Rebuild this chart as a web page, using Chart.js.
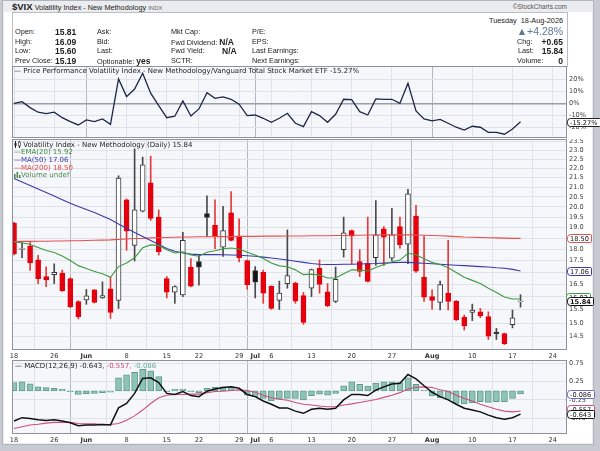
<!DOCTYPE html>
<html>
<head>
<meta charset="utf-8">
<title>$VIX</title>
<script src="https://cdn.jsdelivr.net/npm/chart.js@4.4.1/dist/chart.umd.min.js"></script>
<style>
html, body { margin: 0; padding: 0; }
body { width: 600px; height: 451px; position: relative; overflow: hidden; background: #c7cad1; font-family: "Liberation Sans", Arial, sans-serif; color: #222; }
#frame { position: absolute; left: 2px; top: 0px; width: 590px; height: 443px; background: #ebecef; border: 1px solid #b0b4bc; }
#white { position: absolute; left: 4px; top: 12px; width: 588px; height: 431px; background: #fff; }
#info { position: absolute; left: 12px; top: 12px; width: 554px; height: 53px; background: #fff; border: 1px solid #b9bdc5; }
.t { position: absolute; white-space: nowrap; line-height: 10px; font-size: 7.3px; z-index: 3; }
.b { font-weight: bold; font-size: 8.5px; }
.lg { position: absolute; white-space: nowrap; font-family: "DejaVu Sans", sans-serif; font-size: 7px; line-height: 8px; z-index: 3; }
canvas { position: absolute; left: 0; z-index: 1; }
</style>
</head>
<body>
<div id="frame"></div>
<div id="white"></div>
<div id="info"></div>

<div class="t" style="left:12px;top:2px;"><b style="font-size:9.5px">$VIX</b> Volatility Index - New Methodology <span style="font-size:6px;color:#666">INDX</span></div>
<div class="t" style="left:500px;width:67px;text-align:right;top:2px;font-size:6.5px;color:#555">&copy;StockCharts.com</div>

<div class="t" style="left:15px;top:27px">Open:</div>
<div class="t b" style="left:55px;top:27px" id="vOpen"></div>
<div class="t" style="left:15px;top:37px">High:</div>
<div class="t b" style="left:55px;top:37px" id="vHigh"></div>
<div class="t" style="left:15px;top:46px">Low:</div>
<div class="t b" style="left:55px;top:46px" id="vLow"></div>
<div class="t" style="left:15px;top:56px">Prev Close:</div>
<div class="t b" style="left:55px;top:56px" id="vPrev"></div>

<div class="t" style="left:97px;top:27px">Ask:</div>
<div class="t" style="left:97px;top:37px">Bid:</div>
<div class="t" style="left:97px;top:46px">Last:</div>
<div class="t" style="left:97px;top:56px">Optionable: <b style="font-size:8.5px">yes</b></div>

<div class="t" style="left:171px;top:27px">Mkt Cap:</div>
<div class="t" style="left:171px;top:37px">Fwd Dividend: <b style="font-size:8.5px">N/A</b></div>
<div class="t" style="left:171px;top:46px">Fwd Yield:</div>
<div class="t b" style="left:222px;top:46px">N/A</div>
<div class="t" style="left:171px;top:56px">SCTR:</div>

<div class="t" style="left:252px;top:27px">P/E:</div>
<div class="t" style="left:252px;top:37px">EPS:</div>
<div class="t" style="left:252px;top:46px">Last Earnings:</div>
<div class="t" style="left:252px;top:56px">Next Earnings:</div>

<div class="t" style="left:463px;width:100px;text-align:right;top:16px">Tuesday&nbsp; 18-Aug-2026</div>
<div class="t" style="left:463px;width:100px;text-align:right;top:25px;font-size:10.5px;line-height:12px;color:#5d7893">&#9650;+4.28%</div>
<div class="t" style="left:517px;top:37px">Chg:</div>
<div class="t b" style="left:523px;width:40px;text-align:right;top:37px">+0.65</div>
<div class="t" style="left:518px;top:46px">Last:</div>
<div class="t b" style="left:523px;width:40px;text-align:right;top:46px" id="vLast"></div>
<div class="t" style="left:517px;top:56px">Volume:</div>
<div class="t b" style="left:523px;width:40px;text-align:right;top:56px">0</div>

<div class="lg" style="left:14px;top:66.5px;color:#222"><span style="color:#1c2748">&#8212;</span> Price Performance Volatility Index - New Methodology/Vanguard Total Stock Market ETF -15.27%</div>

<div class="lg" style="left:14px;top:140.5px;color:#222"><svg width="7" height="7" style="vertical-align:-1px"><line x1="1.5" y1="0" x2="1.5" y2="7" stroke="#222"/><rect x="0.5" y="2" width="2" height="3" fill="#222"/><line x1="5.5" y1="0" x2="5.5" y2="7" stroke="#222"/><rect x="4.5" y="1" width="2" height="4" fill="#fff" stroke="#222" stroke-width="0.6"/></svg> Volatility Index - New Methodology (Daily) 15.84</div>
<div class="lg" style="left:14px;top:148px;color:#3c8f3c">&#8212;EMA(20) 15.92</div>
<div class="lg" style="left:14px;top:155.7px;color:#3a3aa8">&#8212;MA(50) 17.06</div>
<div class="lg" style="left:14px;top:163.5px;color:#e04848">&#8212;MA(200) 18.50</div>
<div class="lg" style="left:14px;top:171px;color:#4d8a4d"><svg width="7" height="6" style="vertical-align:-0.5px"><rect x="0" y="2" width="1.6" height="4" fill="#4d8a4d"/><rect x="2.5" y="0" width="1.6" height="6" fill="#4d8a4d"/><rect x="5" y="3" width="1.6" height="3" fill="#4d8a4d"/></svg>Volume undef</div>

<div class="lg" style="left:15px;top:361.5px;color:#222"><span style="color:#111">&#8212;</span> MACD(12,26,9) -0.643, <span style="color:#c8456e">-0.557,</span> <span style="color:#6aa898">-0.086</span></div>

<canvas id="perfChart" width="600" height="72" style="top:66px"></canvas>
<canvas id="priceChart" width="600" height="223" style="top:139px"></canvas>
<canvas id="macdChart" width="600" height="86" style="top:360px"></canvas>

<script>
// trading days shown, May 18 .. Aug 18 2026
const dates = ["2026-05-18","2026-05-19","2026-05-20","2026-05-21","2026-05-22","2026-05-26","2026-05-27","2026-05-28","2026-05-29",
  "2026-06-01","2026-06-02","2026-06-03","2026-06-04","2026-06-05","2026-06-08","2026-06-09","2026-06-10","2026-06-11","2026-06-12",
  "2026-06-15","2026-06-16","2026-06-17","2026-06-18","2026-06-22","2026-06-23","2026-06-24","2026-06-25","2026-06-26","2026-06-29","2026-06-30",
  "2026-07-01","2026-07-02","2026-07-06","2026-07-07","2026-07-08","2026-07-09","2026-07-10","2026-07-13","2026-07-14","2026-07-15","2026-07-16","2026-07-17",
  "2026-07-20","2026-07-21","2026-07-22","2026-07-23","2026-07-24","2026-07-27","2026-07-28","2026-07-29","2026-07-30","2026-07-31",
  "2026-08-03","2026-08-04","2026-08-05","2026-08-06","2026-08-07","2026-08-10","2026-08-11","2026-08-12","2026-08-13","2026-08-14","2026-08-17","2026-08-18"];

const opens  = [19.21,18.00,18.15,17.54,16.83,16.91,16.97,16.74,15.82,15.88,16.28,15.96,16.33,15.86,20.35,18.18,19.79,21.23,19.50,16.74,16.19,16.08,17.23,17.47,19.67,19.10,18.10,19.71,18.60,17.51,17.08,17.01,16.43,15.86,16.54,16.56,16.05,16.35,17.18,16.20,15.82,17.99,18.86,17.47,17.40,17.63,18.94,17.61,19.05,18.23,19.55,16.81,16.01,15.78,16.15,15.84,15.21,15.40,15.42,15.24,14.67,14.61,14.94,15.81];
const highs  = [19.25,18.29,18.33,17.74,17.24,17.37,17.10,16.78,15.85,16.30,16.30,16.61,16.81,21.60,20.40,23.09,22.62,22.67,19.85,16.83,16.45,18.78,17.59,17.77,20.55,20.35,20.02,20.77,19.42,17.53,17.25,17.10,16.45,16.64,18.89,16.60,16.18,17.14,17.54,16.54,17.23,19.50,18.89,17.99,19.50,20.31,19.05,19.93,19.50,20.89,20.07,18.60,16.28,16.64,18.41,15.86,15.30,15.72,15.55,15.42,14.80,14.63,15.49,16.09];
const lows   = [17.75,17.63,17.09,16.54,16.41,16.54,16.22,15.58,15.15,15.71,15.76,15.94,15.17,15.55,17.96,17.49,19.75,19.34,17.75,15.96,15.75,16.01,16.40,16.47,18.59,18.03,17.69,18.38,17.45,16.31,15.96,15.75,15.52,15.51,16.35,15.75,14.95,16.01,16.15,15.62,15.78,17.66,17.37,16.83,16.60,17.30,17.30,17.51,18.06,17.37,17.00,15.82,15.51,15.49,15.49,15.09,14.74,15.09,15.20,14.40,14.40,14.22,14.82,15.60];
const closes = [17.81,18.04,17.41,16.74,16.69,17.01,16.25,15.62,15.24,16.04,15.78,16.05,15.40,21.48,18.83,19.85,22.20,19.44,17.90,16.19,16.42,18.41,16.43,17.23,19.48,18.60,18.86,18.41,17.63,16.49,16.60,16.15,15.55,16.15,16.87,15.83,15.02,17.12,16.50,15.65,16.71,18.75,18.60,17.04,16.63,18.66,18.55,18.66,18.21,20.65,17.05,15.99,15.86,16.50,15.82,15.12,14.89,15.49,15.27,14.52,14.61,14.25,15.19,15.84];

const ema20  = [18.33,18.30,18.22,18.08,17.95,17.86,17.71,17.51,17.29,17.17,17.04,16.95,16.80,17.25,17.40,17.63,18.07,18.20,18.17,17.98,17.84,17.89,17.75,17.70,17.87,17.94,18.03,18.06,18.02,17.87,17.75,17.60,17.40,17.28,17.24,17.11,16.91,16.93,16.89,16.77,16.77,16.95,17.11,17.10,17.06,17.21,17.34,17.46,17.53,17.83,17.76,17.59,17.43,17.34,17.20,17.00,16.80,16.67,16.54,16.35,16.18,16.00,15.92,15.92];
const ma50   = [21.45,21.27,21.08,20.90,20.72,20.55,20.36,20.18,20.02,19.87,19.72,19.55,19.38,19.17,18.97,18.77,18.58,18.40,18.22,18.04,17.92,17.84,17.79,17.77,17.77,17.77,17.76,17.75,17.74,17.72,17.70,17.66,17.62,17.58,17.53,17.48,17.43,17.38,17.35,17.34,17.34,17.35,17.35,17.36,17.37,17.38,17.40,17.42,17.43,17.43,17.41,17.39,17.37,17.35,17.33,17.31,17.29,17.27,17.25,17.23,17.20,17.18,17.13,17.06];
const ma200  = [18.35,18.36,18.36,18.37,18.37,18.38,18.38,18.39,18.39,18.40,18.41,18.42,18.43,18.45,18.47,18.49,18.50,18.52,18.53,18.54,18.55,18.56,18.56,18.57,18.57,18.58,18.58,18.58,18.59,18.59,18.59,18.60,18.60,18.60,18.61,18.61,18.61,18.62,18.62,18.62,18.63,18.63,18.64,18.64,18.65,18.65,18.66,18.66,18.66,18.66,18.65,18.64,18.63,18.62,18.60,18.58,18.56,18.55,18.54,18.53,18.52,18.51,18.50,18.50];

// price performance vs VTI, percent
const perf = [0,1.3,-3.6,-7.4,-8.6,-7.4,-11.9,-15.2,-17.9,-13.8,-15.2,-13.0,-17.4,20.1,5.5,11.8,24.8,8.3,-2.0,-11.9,-10.7,1.9,-10.5,-4.7,8.8,4.1,5.2,3.3,-0.8,-10.2,-9.7,-12.4,-15.7,-12.4,-8.3,-16.5,-19.3,-6.9,-10.2,-15.7,-9.1,3.3,3.0,-6.9,-9.7,3.6,3.3,3.3,0.0,16.5,-6.4,-13.0,-14.6,-13.3,-16.5,-19.8,-22.1,-19.0,-19.8,-24.0,-24.0,-25.6,-21.3,-15.27];

const macdLine   = [-0.83,-0.74,-0.76,-0.80,-0.82,-0.80,-0.83,-0.88,-0.96,-0.94,-0.94,-0.93,-0.94,-0.47,-0.35,-0.07,0.34,0.36,0.23,-0.07,-0.10,-0.02,-0.13,-0.16,-0.01,0.05,0.09,0.11,0.07,-0.10,-0.16,-0.28,-0.37,-0.47,-0.47,-0.56,-0.62,-0.51,-0.48,-0.51,-0.48,-0.25,-0.10,-0.10,-0.13,0.02,0.11,0.19,0.21,0.45,0.33,0.14,-0.04,-0.16,-0.25,-0.37,-0.48,-0.53,-0.58,-0.67,-0.74,-0.78,-0.74,-0.643];
const signalLine = [-1.04,-0.99,-0.94,-0.92,-0.89,-0.87,-0.87,-0.87,-0.90,-0.91,-0.91,-0.93,-0.93,-0.90,-0.81,-0.69,-0.53,-0.35,-0.19,-0.12,-0.10,-0.10,-0.09,-0.09,-0.05,-0.02,-0.01,0.01,0.03,0.01,-0.04,-0.12,-0.19,-0.23,-0.26,-0.32,-0.37,-0.39,-0.42,-0.44,-0.44,-0.39,-0.36,-0.32,-0.28,-0.24,-0.18,-0.12,-0.05,0.05,0.10,0.11,0.09,0.03,-0.02,-0.12,-0.21,-0.28,-0.37,-0.44,-0.51,-0.56,-0.58,-0.557];
const macdHist   = [0.23,0.25,0.19,0.11,0.09,0.07,0.04,-0.02,-0.10,-0.08,-0.07,-0.05,-0.04,0.36,0.44,0.51,0.59,0.55,0.39,-0.02,0.04,0.05,-0.02,-0.05,0.07,0.10,0.11,0.11,0.02,-0.12,-0.16,-0.21,-0.28,-0.23,-0.21,-0.21,-0.25,-0.13,-0.09,-0.12,-0.07,0.14,0.25,0.18,0.13,0.21,0.25,0.25,0.23,0.36,0.18,0.02,-0.14,-0.19,-0.24,-0.35,-0.36,-0.33,-0.30,-0.32,-0.30,-0.30,-0.21,-0.086];

// x axis ticks (index into trading days, 67 = Aug 24)
const tickIdx  = [0,5,9,14,19,23,28,30,32,37,42,47,52,57,62,67];
const tickText = ["18","26","Jun","8","15","22","29","Jul","6","13","20","27","Aug","10","17","24"];
const monthTicks = ["Jun","Jul","Aug"];
const priceTicks = [23.5,23,22.5,22,21.5,21,20.5,20,19.5,19,18.5,18,17.5,17,16.5,16,15.5,15,14.5];
const perfTicks = [20,10,0,-10,-20];
const macdTicks = [0.75,0.5,0.25,0,-0.25,-0.5,-0.75,-1];

const last = closes.length - 1;
document.getElementById('vOpen').textContent = opens[last].toFixed(2);
document.getElementById('vHigh').textContent = highs[last].toFixed(2);
document.getElementById('vLow').textContent = lows[last].toFixed(2);
document.getElementById('vPrev').textContent = closes[last - 1].toFixed(2);
document.getElementById('vLast').textContent = closes[last].toFixed(2);

const FONT = '"DejaVu Sans", sans-serif';
const RED = '#e4000c';

function isUp(i) { return i === 0 ? closes[0] >= opens[0] : closes[i] >= closes[i - 1]; }
function isHollow(i) { return closes[i] > opens[i]; }
function tickLabel(v) { const k = tickIdx.indexOf(v); return k < 0 ? '' : tickText[k]; }

function xScale(showLabels) {
  return {
    type: 'linear', min: -0.25, max: 68.78, offset: false,
    afterBuildTicks: s => { s.ticks = tickIdx.map(v => ({ value: v })); },
    afterFit: s => { s.height = showLabels ? 12 : 0; s.paddingLeft = 0; s.paddingRight = 0; },
    grid: {
      drawTicks: false,
      color: ctx => (ctx.tick && monthTicks.includes(tickLabel(ctx.tick.value))) ? '#b3b7bf' : '#dfe2e9'
    },
    border: { display: false },
    ticks: {
      display: showLabels, autoSkip: false, maxRotation: 0, padding: 2, color: '#333',
      callback: v => tickLabel(v),
      font: ctx => ({ family: FONT, size: 6.6, weight: (ctx.tick && monthTicks.includes(tickLabel(ctx.tick.value))) ? 'bold' : 'normal' })
    }
  };
}

function yScale(extra) {
  return Object.assign({
    position: 'right',
    afterFit: s => { s.width = 33; s.paddingTop = 0; s.paddingBottom = 0; },
    grid: { drawTicks: false, color: '#dfe2e9' },
    border: { display: false }
  }, extra);
}

const panelFrame = {
  id: 'panelFrame',
  beforeDraw(chart) {
    const { ctx, chartArea: a } = chart;
    ctx.save();
    ctx.fillStyle = '#f6f7fb';
    ctx.fillRect(a.left, a.top, a.width, a.height);
    ctx.restore();
  },
  afterDraw(chart) {
    const { ctx, chartArea: a } = chart;
    ctx.save();
    ctx.strokeStyle = '#8e929a';
    ctx.lineWidth = 1;
    ctx.strokeRect(a.left + 0.5, a.top + 0.5, a.width - 1, a.height - 1);
    ctx.restore();
  }
};

// value tags on the right axis
function valueBoxes(boxes) {
  return {
    id: 'valueBoxes',
    afterDraw(chart) {
      const { ctx, chartArea } = chart;
      const y = chart.scales.y;
      boxes.forEach(b => {
        const py = Math.round(y.getPixelForValue(b.value) + (b.dy || 0)) + 0.5;
        ctx.save();
        ctx.font = (b.bold ? 'bold ' : '') + '6.6px ' + FONT;
        const w = Math.ceil(ctx.measureText(b.text).width) + 5;
        const x = chartArea.right + 0.5 + (b.dx || 0);
        ctx.beginPath();
        ctx.roundRect(x, py - 4, w, 8, [3, 1, 1, 3]);
        ctx.fillStyle = '#fff';
        ctx.fill();
        ctx.strokeStyle = b.color;
        ctx.lineWidth = 1;
        ctx.stroke();
        ctx.fillStyle = '#111';
        ctx.textBaseline = 'middle';
        ctx.fillText(b.text, x + 2.5, py + 0.5);
        ctx.restore();
      });
    }
  };
}

const pts = arr => arr.map((v, i) => ({ x: i, y: v }));
const tickFont = { family: FONT, size: 6.6 };

// price performance panel
new Chart(document.getElementById('perfChart'), {
  type: 'line',
  data: {
    datasets: [{
      data: pts(perf), borderColor: '#1c2748', borderWidth: 1.3, pointRadius: 0, tension: 0
    }]
  },
  options: {
    responsive: false, animation: false, events: [],
    layout: { padding: { left: 12, right: 0, top: 0, bottom: 0 } },
    plugins: { legend: { display: false }, tooltip: { enabled: false } },
    scales: {
      x: xScale(false),
      y: yScale({
        min: -28.7, max: 30.8,
        afterBuildTicks: s => { s.ticks = perfTicks.map(v => ({ value: v })); },
        grid: {
          drawTicks: false,
          color: ctx => (ctx.tick && ctx.tick.value === 0) ? '#9a9ea6' : '#dfe2e9',
          lineWidth: ctx => (ctx.tick && ctx.tick.value === 0) ? 1.5 : 1
        },
        ticks: { padding: 2, color: '#444', font: tickFont, callback: v => v + '%' }
      })
    }
  },
  plugins: [panelFrame, valueBoxes([{ value: perf[last], text: perf[last].toFixed(2) + '%', color: '#222' }])]
});

// candlesticks + moving averages
new Chart(document.getElementById('priceChart'), {
  type: 'bar',
  data: {
    datasets: [
      { type: 'line', data: pts(ema20), borderColor: '#3f9a3f', borderWidth: 1.1, pointRadius: 0, order: 0 },
      { type: 'line', data: pts(ma50), borderColor: '#3a3aa8', borderWidth: 1.1, pointRadius: 0, order: 0 },
      { type: 'line', data: pts(ma200), borderColor: '#e65050', borderWidth: 1.1, pointRadius: 0, order: 0 },
      {
        data: dates.map((d, i) => ({ x: i, y: [opens[i], closes[i]] })),
        grouped: false, barThickness: 5, borderWidth: 1, borderSkipped: false, order: 1,
        backgroundColor: ctx => isHollow(ctx.dataIndex) ? '#ffffff' : (isUp(ctx.dataIndex) ? '#151515' : RED),
        borderColor: ctx => isUp(ctx.dataIndex) ? '#3a3a3a' : RED
      },
      {
        data: dates.map((d, i) => ({ x: i, y: [lows[i], highs[i]] })),
        grouped: false, barThickness: 1, borderWidth: 0, order: 2,
        backgroundColor: ctx => isUp(ctx.dataIndex) ? '#4a4a4a' : '#e63a3a'
      }
    ]
  },
  options: {
    responsive: false, animation: false, events: [],
    layout: { padding: { left: 12, right: 0, top: 0, bottom: 0 } },
    plugins: { legend: { display: false }, tooltip: { enabled: false } },
    scales: {
      x: xScale(true),
      y: yScale({
        type: 'logarithmic', min: 14.03, max: 23.66,
        afterBuildTicks: s => { s.ticks = priceTicks.map(v => ({ value: v })); },
        ticks: { padding: 2, color: '#444', font: tickFont, callback: v => Number(v).toFixed(1) }
      })
    }
  },
  plugins: [panelFrame, valueBoxes([
    { value: ma200[last], text: ma200[last].toFixed(2), color: '#e65050' },
    { value: ma50[last], text: ma50[last].toFixed(2), color: '#3a3aa8' },
    { value: ema20[last], text: ema20[last].toFixed(2), color: '#3f9a3f', dx: -1, dy: -2 },
    { value: closes[last], text: closes[last].toFixed(2), color: '#111', bold: true }
  ])]
});

// MACD panel
new Chart(document.getElementById('macdChart'), {
  type: 'bar',
  data: {
    datasets: [
      { type: 'line', data: pts(macdLine), borderColor: '#111', borderWidth: 1.5, pointRadius: 0, order: 0 },
      { type: 'line', data: pts(signalLine), borderColor: '#cf4f78', borderWidth: 1.1, pointRadius: 0, order: 1 },
      {
        data: pts(macdHist), grouped: false, barThickness: 6, borderWidth: 1, borderSkipped: false, order: 2,
        backgroundColor: '#8ec3b6', borderColor: '#5e9c8c'
      }
    ]
  },
  options: {
    responsive: false, animation: false, events: [],
    layout: { padding: { left: 12, right: 0, top: 0, bottom: 0 } },
    plugins: { legend: { display: false }, tooltip: { enabled: false } },
    scales: {
      x: xScale(true),
      y: yScale({
        min: -1.19, max: 0.85,
        afterBuildTicks: s => { s.ticks = macdTicks.map(v => ({ value: v })); },
        ticks: { padding: 2, color: '#444', font: tickFont, callback: v => Number(v).toFixed(2) }
      })
    }
  },
  plugins: [panelFrame, valueBoxes([
    { value: macdHist[last], text: macdHist[last].toFixed(3), color: '#6b6bc9' },
    { value: signalLine[last], text: signalLine[last].toFixed(3), color: '#cf4f78', dy: -2 },
    { value: macdLine[last], text: macdLine[last].toFixed(3), color: '#111' }
  ])]
});
</script>
</body>
</html>
